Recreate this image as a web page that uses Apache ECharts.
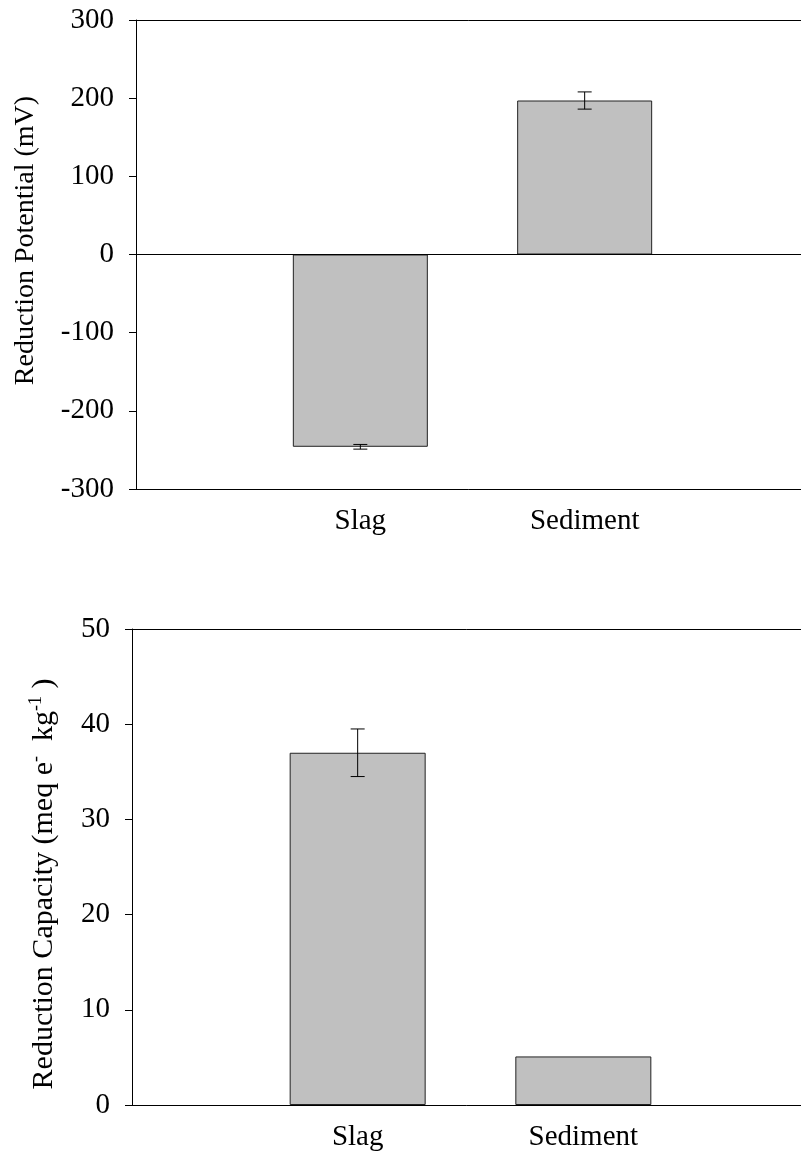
<!DOCTYPE html>
<html>
<head>
<meta charset="utf-8">
<script src="https://cdn.jsdelivr.net/npm/echarts@6/dist/echarts.min.js"></script>
<style>
html,body{margin:0;padding:0;background:#fff;}
#main{width:801px;height:1158px;}
</style>
</head>
<body>
<div id="main"></div>
<script>
const categories = ['Slag', 'Sediment'];
const potential = [-246, 197];
const potentialErr = [3, 11];
const capacity = [37.0, 5.1];
const capacityErr = [2.5, 0];
const potentialAxis = {min: -300, max: 300, interval: 100};
const capacityAxis = {min: 0, max: 50, interval: 10};

const FONT = 'Liberation Serif';
const xCats = [''].concat(categories, ['']);
const pad = arr => [null].concat(arr, [null]);

function errData(vals, errs) {
  return vals.map((v, i) => [i + 1, v - errs[i], v + errs[i]]).filter((d, i) => errs[i] > 0);
}
function errRender(params, api) {
  const lo = api.coord([api.value(0), api.value(1)]);
  const hi = api.coord([api.value(0), api.value(2)]);
  const hw = 7;
  const st = {stroke: '#000', lineWidth: 1};
  return {type: 'group', children: [
    {type: 'line', shape: {x1: lo[0], y1: lo[1], x2: hi[0], y2: hi[1]}, style: st},
    {type: 'line', shape: {x1: lo[0] - hw, y1: lo[1], x2: lo[0] + hw, y2: lo[1]}, style: st},
    {type: 'line', shape: {x1: hi[0] - hw, y1: hi[1], x2: hi[0] + hw, y2: hi[1]}, style: st}
  ]};
}

const lineBlack = {show: true, lineStyle: {color: '#000', width: 1}};

function xBottom(gi) {
  return {type: 'category', gridIndex: gi, data: xCats, boundaryGap: false, position: 'bottom',
    axisLine: {show: true, onZero: false, lineStyle: {color: '#000', width: 1}},
    axisTick: {show: false},
    axisLabel: {color: '#000', fontFamily: FONT, fontSize: 29, margin: 18, interval: 0},
    splitLine: {show: false}};
}
function xTop(gi) {
  return {type: 'category', gridIndex: gi, data: xCats, boundaryGap: false, position: 'top',
    axisLine: {show: true, onZero: false, lineStyle: {color: '#000', width: 1}},
    axisTick: {show: false}, axisLabel: {show: false}, splitLine: {show: false}};
}

const option = {
  animation: false,
  backgroundColor: '#fff',
  grid: [
    {left: 136, right: -8, top: 20, height: 469, outerBoundsMode: 'none', containLabel: false},
    {left: 132, right: -8, top: 629, height: 476, outerBoundsMode: 'none', containLabel: false}
  ],
  xAxis: [xBottom(0), xTop(0), xBottom(1), xTop(1)],
  yAxis: [
    {type: 'value', gridIndex: 0, min: potentialAxis.min, max: potentialAxis.max, interval: potentialAxis.interval,
      axisLine: lineBlack, axisTick: {show: true, length: 7, lineStyle: {color: '#000'}},
      axisLabel: {color: '#000', fontFamily: FONT, fontSize: 29, margin: 22},
      splitLine: {show: false},
      name: 'Reduction Potential (mV)', nameLocation: 'middle', nameRotate: 90, nameGap: 96,
      nameTextStyle: {color: '#000', fontFamily: FONT, fontSize: 28, padding: [0, 0, 0, 28]}},
    {type: 'value', gridIndex: 1, min: capacityAxis.min, max: capacityAxis.max, interval: capacityAxis.interval,
      axisLine: lineBlack, axisTick: {show: true, length: 7, lineStyle: {color: '#000'}},
      axisLabel: {color: '#000', fontFamily: FONT, fontSize: 29, margin: 22},
      splitLine: {show: false},
      name: 'Reduction Capacity (meq e{sup|-}  kg{sup|-1} )', nameLocation: 'middle', nameRotate: 90, nameGap: 71,
      nameTextStyle: {color: '#000', fontFamily: FONT, fontSize: 30, lineHeight: 34, padding: [0, 34, 0, 0],
        rich: {sup: {fontFamily: FONT, fontSize: 18, color: '#000', verticalAlign: 'top', lineHeight: 34}}}}
  ],
  series: [
    {type: 'bar', xAxisIndex: 0, yAxisIndex: 0, data: pad(potential), barWidth: 135,
      itemStyle: {color: '#c0c0c0', borderColor: '#222', borderWidth: 1},
      markLine: {silent: true, symbol: 'none', label: {show: false},
        lineStyle: {color: '#000', width: 1, type: 'solid'}, data: [{yAxis: 0}]}},
    {type: 'custom', xAxisIndex: 0, yAxisIndex: 0, data: errData(potential, potentialErr), renderItem: errRender, z: 5},
    {type: 'bar', xAxisIndex: 2, yAxisIndex: 1, data: pad(capacity), barWidth: 136,
      itemStyle: {color: '#c0c0c0', borderColor: '#222', borderWidth: 1}},
    {type: 'custom', xAxisIndex: 2, yAxisIndex: 1, data: errData(capacity, capacityErr), renderItem: errRender, z: 5}
  ]
};
const chart = echarts.init(document.getElementById('main'), null, {renderer: 'canvas'});
chart.setOption(option);
</script>
</body>
</html>
